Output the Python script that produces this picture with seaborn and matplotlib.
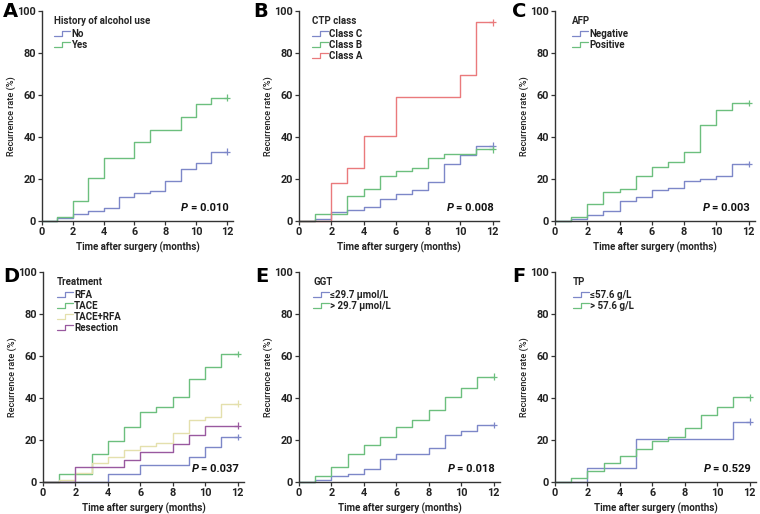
import numpy as np
import pandas as pd
import matplotlib
matplotlib.use('Agg')
import matplotlib.pyplot as plt
import seaborn as sns
from matplotlib.lines import Line2D
from matplotlib.legend_handler import HandlerBase

sns.set_style('ticks')
plt.rcParams['font.family'] = ['Roboto', 'DejaVu Sans']

months = list(range(13))

# recurrence rate (%) after each month
a_no = [0, 1.5, 3.2, 4.9, 6.0, 11.3, 13.5, 14.3, 19.0, 25.0, 27.8, 33.0, 33.0]
a_yes = [0, 2.0, 9.7, 20.3, 29.8, 29.8, 37.8, 43.3, 43.3, 49.4, 55.6, 58.7, 58.7]

b_c = [0, 0.8, 4.1, 5.1, 6.8, 10.3, 13.0, 14.8, 18.7, 27.0, 31.4, 35.9, 35.9]
b_b = [0, 3.3, 3.3, 11.9, 15.4, 21.6, 23.7, 25.4, 29.8, 32.0, 32.0, 34.1, 34.1]
b_a = [0, 0, 18.3, 25.2, 40.6, 40.6, 58.9, 58.9, 58.9, 58.9, 69.4, 94.6, 94.6]

c_neg = [0, 0.8, 2.9, 4.8, 9.5, 11.6, 14.8, 15.9, 18.9, 20.2, 21.4, 27.1, 27.1]
c_pos = [0, 1.7, 7.9, 13.8, 15.1, 21.6, 25.7, 28.3, 33.0, 45.6, 52.9, 56.3, 56.3]

d_rfa = [0, 0, 0, 0, 4.0, 4.0, 8.0, 8.0, 8.0, 12.0, 16.7, 21.5, 21.5]
d_tace = [0, 3.7, 3.7, 13.2, 19.4, 26.1, 33.4, 35.5, 40.6, 48.9, 54.8, 61.0, 61.0]
d_tacerfa = [0, 0.8, 4.5, 9.2, 11.9, 15.4, 17.0, 18.8, 23.4, 29.6, 31.0, 37.3, 37.3]
d_res = [0, 0, 7.2, 7.2, 7.2, 10.7, 14.3, 14.3, 18.3, 22.3, 26.8, 26.8, 26.8]

e_low = [0, 0.8, 2.7, 4.0, 6.4, 10.8, 13.5, 13.5, 16.4, 22.3, 24.2, 27.1, 27.1]
e_high = [0, 2.9, 7.3, 13.2, 17.4, 21.5, 26.0, 29.5, 34.4, 40.6, 44.6, 50.2, 50.2]

f_low = [0, 0, 6.7, 6.7, 6.7, 20.7, 20.7, 20.7, 20.7, 20.7, 20.7, 28.8, 28.8]
f_high = [0, 1.9, 5.1, 9.1, 12.4, 15.6, 19.4, 21.3, 25.5, 32.0, 35.8, 40.3, 40.3]

BLUE = '#7d87c8'
GREEN = '#6cbf7e'
RED = '#ea7a7c'
YELLOW = '#e4e0ad'
PURPLE = '#99599f'

panels = [
    ('A', 'History of alcohol use', ['No', 'Yes'], [a_no, a_yes], [BLUE, GREEN], '0.010'),
    ('B', 'CTP class', ['Class C', 'Class B', 'Class A'], [b_c, b_b, b_a], [BLUE, GREEN, RED], '0.008'),
    ('C', 'AFP', ['Negative', 'Positive'], [c_neg, c_pos], [BLUE, GREEN], '0.003'),
    ('D', 'Treatment', ['RFA', 'TACE', 'TACE+RFA', 'Resection'],
     [d_rfa, d_tace, d_tacerfa, d_res], [BLUE, GREEN, YELLOW, PURPLE], '0.037'),
    ('E', 'GGT', ['≤29.7 µmol/L', '> 29.7 µmol/L'], [e_low, e_high], [BLUE, GREEN], '0.018'),
    ('F', 'TP', ['≤57.6 g/L', '> 57.6 g/L'], [f_low, f_high], [BLUE, GREEN], '0.529'),
]

# axes boxes in pixels: left, top, width, height
W, H = 760, 514
boxes = [(42, 11, 191, 210), (299, 11, 200, 210), (555, 11, 200, 210),
         (43, 272, 201, 210), (299, 272, 201, 210), (555, 272, 201, 210)]
letter_pos = [(3, 2), (253, 2), (512, 2), (3, 267), (255, 267), (512, 267)]
leg_x = [0.065, 0.065, 0.085, 0.07, 0.07, 0.09]


class StepHandler(HandlerBase):
    def create_artists(self, legend, orig_handle, xdescent, ydescent,
                       width, height, fontsize, trans):
        xs = np.array([0, 0.5, 0.5, 1.0]) * width - xdescent
        ys = np.array([0.1, 0.1, 0.85, 0.85]) * height - ydescent
        ln = Line2D(xs, ys, color=orig_handle.get_color(), lw=0.9)
        ln.set_transform(trans)
        return [ln]


fig = plt.figure(figsize=(7.6, 5.14), dpi=100)

for i, (letter, title, groups, series, colors, pval) in enumerate(panels):
    l, t, w, h = boxes[i]
    ax = fig.add_axes([l / W, 1 - (t + h) / H, w / W, h / H])
    rows = []
    for g, vals in zip(groups, series):
        for m, v in zip(months, vals):
            rows.append((m, v, g))
    df = pd.DataFrame(rows, columns=['month', 'rate', 'group'])
    sns.lineplot(data=df, x='month', y='rate', hue='group', hue_order=groups,
                 palette=colors, drawstyle='steps-post', estimator=None,
                 lw=1.0, legend=False, ax=ax, clip_on=False)
    # censor marks at end of follow-up
    last = df[df.month == months[-1]]
    sns.scatterplot(data=last, x='month', y='rate', hue='group', hue_order=groups,
                    palette=colors, marker='+', s=22, linewidth=0.9,
                    legend=False, ax=ax, clip_on=False, zorder=5)

    ax.set_xlim(0, 12.4)
    ax.set_ylim(0, 100)
    ax.set_xticks(range(0, 13, 2))
    ax.set_yticks(range(0, 101, 20))
    sns.despine(ax=ax)
    for s in ['left', 'bottom']:
        ax.spines[s].set_linewidth(1.0)
        ax.spines[s].set_color('#333333')
    ax.tick_params(length=3, width=0.9, color='#333333', labelsize=7.8,
                   labelcolor='#222222', pad=1.5)
    for lab in ax.get_xticklabels() + ax.get_yticklabels():
        lab.set_fontweight('bold')
    ax.set_xlabel('Time after surgery (months)', fontsize=7, fontweight='bold',
                  color='#222222', labelpad=3)
    ax.set_ylabel('Recurrence rate (%)', fontsize=6.6, fontweight='medium',
                  color='#222222', labelpad=1)

    handles = [Line2D([], [], color=c) for c in colors]
    leg = ax.legend(handles, groups, title=title, loc='upper left',
                    bbox_to_anchor=(leg_x[i], 0.978), frameon=False,
                    handler_map={Line2D: StepHandler()}, handlelength=1.6,
                    handletextpad=0.15, labelspacing=0.1, borderpad=0,
                    borderaxespad=0, alignment='left',
                    prop={'size': 7, 'weight': 'bold'},
                    title_fontproperties={'size': 7, 'weight': 'bold'})
    leg._legend_box.sep = 2.5
    for txt in leg.get_texts():
        txt.set_color('#222222')

    num = ax.text(12.1, 6, '= ' + pval, ha='right', va='center', fontsize=8,
                  fontweight='bold', color='#111111')
    ax.annotate('P ', xy=(0, 0.5), xycoords=num, ha='right', va='center',
                fontsize=8, fontweight='bold', style='italic', color='#111111')

    lx, ly = letter_pos[i]
    fig.text(lx / W, 1 - ly / H, letter, ha='left', va='top', fontsize=14,
             fontweight='bold', color='black', family='DejaVu Sans')

fig.savefig('out.png', dpi=100)
